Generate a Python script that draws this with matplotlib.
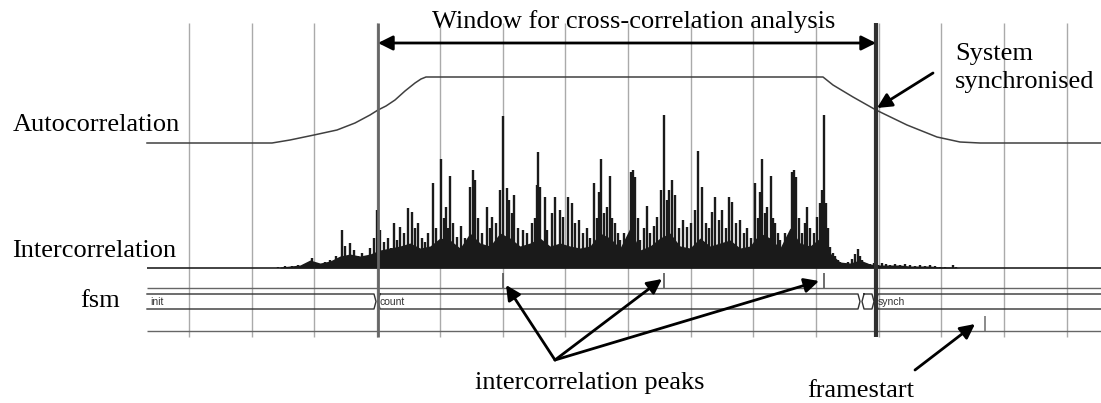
import numpy as np
import matplotlib
matplotlib.use("Agg")
import matplotlib.pyplot as plt

# === Data (time axis in samples) ===
grid_start, grid_step, n_grid = 189, 62.7, 15
cursor_t = [378, 876]

# Autocorrelation: amplitude above its baseline
auto_t = [147, 272, 290, 314, 337, 355, 370, 378, 386, 395, 405, 415, 421, 426,
          823, 833, 853, 876, 907, 937, 960, 980, 1101]
auto_v = [0, 0, 3, 8, 13, 20, 28, 33, 37, 43, 52, 60, 64, 66,
          66, 58, 46, 33, 18, 6, 1, 0, 0]

# Intercorrelation: individual spikes (time, height)
spike_t = [278, 285, 292, 298, 305, 312, 316, 320, 325, 330, 336, 342, 345, 350, 354,
           358, 362, 366, 370, 374, 377, 380, 384, 388, 391, 394, 397, 400, 404, 408,
           412, 415, 418, 422, 425, 428, 433, 436, 441, 444, 446, 448, 450, 453, 457,
           461, 465, 470, 473, 475, 478, 482, 487, 490, 492, 496, 500, 503, 507, 509,
           512, 514, 518, 523, 527, 532, 535, 537, 538, 540, 545, 547, 552, 555, 560,
           563, 568, 572, 575, 579, 583, 587, 590, 594, 597, 599, 601, 604, 607, 610,
           612, 615, 618, 620, 624, 628, 631, 633, 635, 638, 640, 644, 647, 650, 654,
           657, 661, 664, 667, 669, 672, 675, 679, 683, 687, 691, 695, 698, 702, 706,
           709, 712, 715, 719, 722, 726, 729, 732, 736, 740, 744, 747, 751, 755, 758,
           760, 762, 765, 767, 771, 773, 775, 778, 780, 785, 789, 792, 794, 796, 799,
           802, 805, 807, 810, 814, 817, 820, 822, 824, 826, 828, 830, 833, 835, 838,
           840, 844, 848, 852, 855, 858, 860, 862, 866, 870, 874, 878, 882, 886, 890,
           895, 900, 905, 910, 915, 920, 925, 930, 935, 940, 945, 953, 956]
spike_h = [1, 2, 2, 3, 4, 10, 5, 4, 6, 8, 12, 38, 22, 25, 18,
           12, 15, 10, 20, 30, 58, 38, 26, 30, 20, 45, 28, 41, 35, 60,
           56, 40, 45, 30, 26, 35, 85, 40, 109, 50, 61, 40, 92, 45, 31,
           42, 30, 81, 98, 88, 50, 35, 61, 40, 51, 45, 78, 152, 80, 68,
           55, 73, 40, 38, 35, 45, 50, 83, 116, 81, 71, 38, 55, 71, 58,
           51, 71, 65, 45, 48, 35, 40, 30, 85, 50, 76, 109, 55, 61, 92,
           50, 45, 35, 28, 35, 30, 96, 98, 91, 50, 28, 40, 62, 35, 42,
           51, 78, 153, 68, 78, 88, 73, 40, 48, 41, 45, 58, 117, 81, 45,
           40, 56, 71, 48, 58, 40, 71, 66, 45, 48, 35, 40, 30, 85, 50,
           76, 109, 55, 61, 92, 50, 45, 35, 28, 35, 30, 96, 98, 91, 50,
           35, 45, 61, 40, 35, 51, 65, 78, 153, 65, 40, 21, 15, 12, 8,
           6, 5, 6, 9, 14, 19, 12, 8, 5, 4, 5, 3, 5, 4, 3,
           4, 3, 4, 3, 2, 3, 2, 3, 2, 1, 1, 3, 1]

# Intercorrelation: dense noise floor envelope
body_t = list(range(280, 961, 10))
body_h = [1, 2, 3, 8, 5, 7, 12, 14, 12, 14, 18, 20, 22, 25, 20, 22, 30, 28, 20, 35,
          25, 22, 35, 30, 22, 25, 30, 22, 25, 22, 20, 22, 35, 30, 20, 40, 18, 22, 30, 35,
          22, 20, 30, 22, 25, 28, 20, 22, 35, 30, 20, 40, 25, 22, 30, 15, 6, 5, 8, 4,
          3, 3, 3, 2, 2, 2, 1, 1, 0]

# Peak detector and framestart pulses
peak_pulse_t = [503, 664, 824]
frame_pulse_t = [985]

# fsm bus states
fsm_states = ["init", "count", "", "synch"]
fsm_edges = [147, 377, 861, 875, 1101]

# === Figure ===
plt.rcParams['font.family'] = ['Liberation Serif', 'DejaVu Serif']
fig = plt.figure(figsize=(11.01, 4.03), dpi=100)
ax = fig.add_axes([0, 0, 1, 1])
ax.set_xlim(0, 1101)
ax.set_ylim(403, 0)
ax.axis('off')

x0, x1 = 147, 1101
top, bottom = 23, 337
auto_base, inter_base = 143, 268
peak_base, bus_hi, bus_lo, frame_base = 288, 294, 309, 331

# grid and cursors
grid_t = grid_start + grid_step * np.arange(n_grid)
ax.vlines(grid_t, top, bottom, color='#aaaaaa', lw=1, zorder=1)
ax.vlines(cursor_t[0], top, bottom, color='#666666', lw=2, zorder=4)
ax.vlines(cursor_t[1], top, bottom, color='#303030', lw=3, zorder=4)

# autocorrelation trace
ax.plot(auto_t, auto_base - np.array(auto_v), color='#404040', lw=1.1, zorder=3)

# intercorrelation trace
ax.hlines(inter_base, x0, x1, color='#222222', lw=1.2, zorder=3)
ax.fill_between(body_t, inter_base, inter_base - np.array(body_h),
                color='#1a1a1a', lw=0, zorder=3)
ax.vlines(spike_t, inter_base, inter_base - np.array(spike_h),
          color='#1a1a1a', lw=1.7, zorder=3)

# peak detector line + pulses
ax.hlines(peak_base, x0, x1, color='#666666', lw=1, zorder=2)
ax.vlines(peak_pulse_t, peak_base, peak_base - 15, color='#555555', lw=1.2, zorder=3)

# fsm bus
mid = (bus_hi + bus_lo) / 2
for i, name in enumerate(fsm_states):
    a, b = fsm_edges[i], fsm_edges[i + 1]
    xs = [a + 3, b - 3, b - 1, b - 3, a + 3, a + 1, a + 3]
    ys = [bus_hi, bus_hi, mid, bus_lo, bus_lo, mid, bus_hi]
    if i == 0:
        xs, ys = [a, b - 3, b - 1, b - 3, a], [bus_hi, bus_hi, mid, bus_lo, bus_lo]
    if i == len(fsm_states) - 1:
        xs, ys = [b, a + 3, a + 1, a + 3, b], [bus_hi, bus_hi, mid, bus_lo, bus_lo]
    ax.plot(xs, ys, color='#333333', lw=1, zorder=3)
    if name:
        ax.text(a + 3, mid + 0.5, name, family='Liberation Sans', fontsize=7.5,
                color='#333333', va='center', ha='left', zorder=5)

# framestart line + pulse
ax.hlines(frame_base, x0, x1, color='#666666', lw=1, zorder=2)
ax.vlines(frame_pulse_t, frame_base, frame_base - 15, color='#777777', lw=1.2, zorder=3)

# labels
fs = 19
ax.text(13, 131, "Autocorrelation", fontsize=fs, va='baseline')
ax.text(12, 257, "Intercorrelation", fontsize=fs, va='baseline')
ax.text(80, 307, "fsm", fontsize=fs, va='baseline')
ax.text(634, 28, "Window for cross-correlation analysis", fontsize=fs,
        va='baseline', ha='center')
ax.text(955, 60, "System", fontsize=fs, va='baseline')
ax.text(955, 88, "synchronised", fontsize=fs, va='baseline')
ax.text(475, 389, "intercorrelation peaks", fontsize=fs, va='baseline')
ax.text(807, 397, "framestart", fontsize=fs, va='baseline')

# arrows
arrow = dict(arrowstyle='-|>', color='k', lw=2, mutation_scale=22,
             shrinkA=0, shrinkB=0)
ax.annotate("", xy=(cursor_t[0], 43), xytext=(cursor_t[1], 43),
            arrowprops=dict(arrow, arrowstyle='<|-|>'), zorder=6)
ax.annotate("", xy=(877, 108), xytext=(933, 73), arrowprops=arrow, zorder=6)
for tip in [(506, 285), (662, 279), (819, 281)]:
    ax.annotate("", xy=tip, xytext=(555, 360), arrowprops=arrow, zorder=6)
ax.annotate("", xy=(975, 324), xytext=(915, 370), arrowprops=arrow, zorder=6)

fig.savefig("out.png", dpi=100, facecolor='white')
